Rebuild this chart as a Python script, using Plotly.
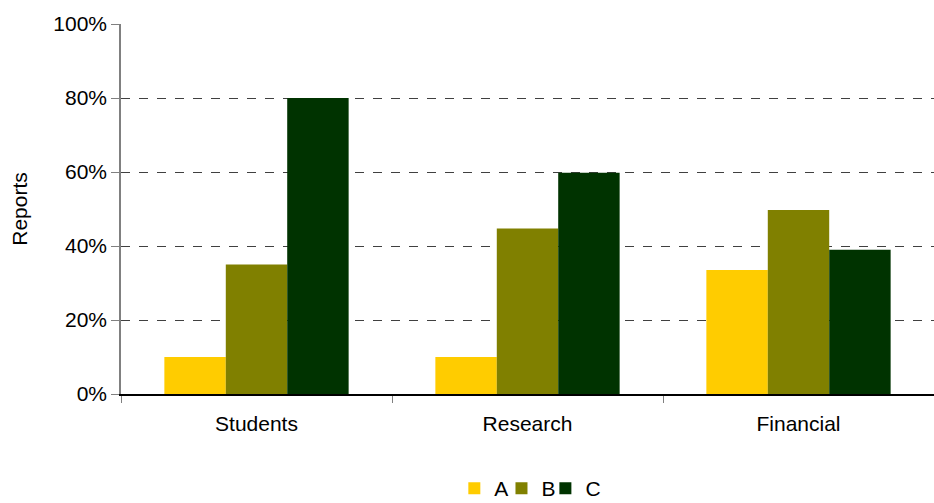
import plotly.graph_objects as go

categories = ["Students", "Research", "Financial"]
series_names = ["A", "B", "C"]
values_a = [10, 10, 33.5]
values_b = [35, 44.7, 49.7]
values_c = [80, 59.8, 39]
colors = ["#FFCC00", "#808000", "#003300"]

# one small legend per series so the keys can sit close together
legend_ids = ["legend", "legend2", "legend3"]
legend_x = [0.41, 0.468, 0.522]

fig = go.Figure()
for name, vals, col, lid in zip(series_names, [values_a, values_b, values_c], colors, legend_ids):
    fig.add_trace(go.Bar(
        x=categories, y=vals, name=name, legend=lid,
        marker=dict(color=col, line=dict(width=0)),
    ))

font_family = "Liberation Sans, Arial, sans-serif"
legend_common = dict(orientation="h", xanchor="left", y=-0.2, yanchor="top",
                     font=dict(size=21), itemwidth=30, bgcolor="rgba(0,0,0,0)")

fig.update_layout(
    width=934, height=503,
    margin=dict(l=121, r=0, t=24, b=109, autoexpand=False),
    plot_bgcolor="white", paper_bgcolor="white",
    barmode="group", bargap=0.32, bargroupgap=0,
    font=dict(family=font_family, size=21, color="black"),
    showlegend=True,
    legend=dict(x=legend_x[0], **legend_common),
    legend2=dict(x=legend_x[1], **legend_common),
    legend3=dict(x=legend_x[2], **legend_common),
    xaxis=dict(
        range=[-0.5, 2.5], tickson="boundaries", ticks="outside", ticklen=7,
        tickcolor="#808080", showline=True, linecolor="black", linewidth=1.5,
        showgrid=False, tickfont=dict(size=21), ticklabelstandoff=10,
        automargin=False,
    ),
    yaxis=dict(
        range=[0, 100], dtick=20, ticksuffix="%", ticks="outside", ticklen=8,
        tickcolor="#808080", showline=True, linecolor="#808080", linewidth=1.5,
        showgrid=True, gridcolor="#404040", griddash="dash", gridwidth=1,
        zeroline=False, tickfont=dict(size=21), automargin=False,
        title=dict(text="Reports", font=dict(size=21), standoff=20),
    ),
)

fig.write_html("out.html")
